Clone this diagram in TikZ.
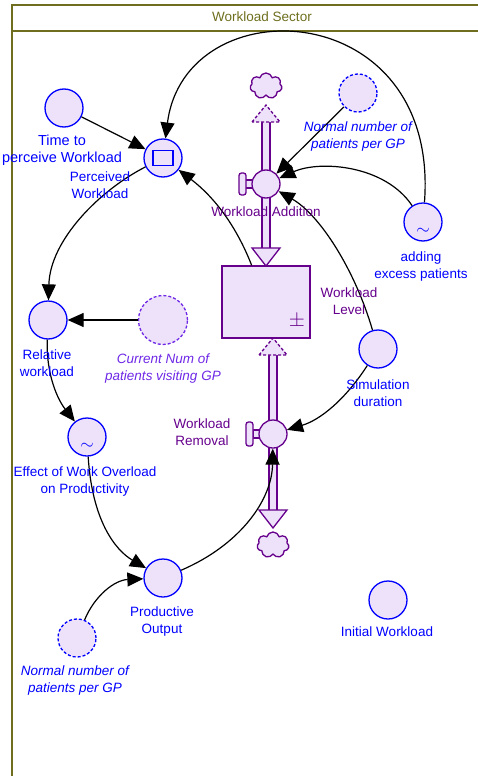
\documentclass[tikz,border=0pt]{standalone}
\usepackage{fontspec}
\setmainfont{Liberation Sans}
\usetikzlibrary{arrows.meta,shapes.symbols}
\definecolor{lav}{RGB}{238,226,250}
\definecolor{auxc}{RGB}{0,0,255}
\definecolor{flowc}{RGB}{102,0,140}
\definecolor{olivec}{RGB}{110,110,30}
\definecolor{violetc}{RGB}{110,40,230}

\begin{document}
\begin{tikzpicture}[x=1pt,y=-1pt,
  conv/.style={circle, draw=auxc, fill=lav, line width=1.3pt, minimum size=38pt, inner sep=0pt},
  ghost/.style={conv, dash pattern=on 3pt off 2pt},
  valve/.style={circle, draw=flowc, fill=lav, line width=1.3pt, minimum size=28pt, inner sep=0pt},
  knob/.style={draw=flowc, fill=lav, line width=1.3pt},
  cloudnode/.style={cloud, cloud puffs=7, draw=flowc, fill=lav, line width=1.3pt,
    minimum width=32pt, minimum height=26pt, inner sep=0pt},
  pipe/.style={draw=flowc, line width=1.4pt},
  head/.style={draw=flowc, fill=lav, line width=1.3pt, line join=miter},
  lbl/.style={text=auxc, font=\fontsize{13.5}{17}\selectfont, align=center, inner sep=0pt},
  flbl/.style={lbl, text=flowc},
  ilbl/.style={lbl, font=\fontsize{13.5}{17}\selectfont\itshape},
  link/.style={line width=1.2pt, -{Triangle[length=16pt,width=14pt]}},
  sym/.style={text=auxc, font=\fontsize{18}{18}\selectfont, inner sep=0pt}
]
\useasboundingbox (0,0) rectangle (478,776);

% sector frame
\draw[olivec, line width=2pt] (12,776) -- (12,5) -- (520,5);
\draw[olivec, line width=2pt] (12,31) -- (520,31);
\node[text=olivec, font=\fontsize{13.5}{14}\selectfont, inner sep=0pt] (title) at (262,17) {Workload Sector};

% upper flow (inflow)
\fill[lav] (262,121) rectangle (270,249);
\draw[pipe] (262,121) -- (262,249) (270,121) -- (270,249);
\draw[head, dash pattern=on 3pt off 2pt] (252,122) -- (266,105) -- (280,122) -- cycle;
\draw[head] (252,248) -- (280,248) -- (266,266) -- cycle;
\node[cloudnode] (srccloud) at (266,86) {};

% lower flow (outflow)
\fill[lav] (269,354) rectangle (277,511);
\draw[pipe] (269,354) -- (269,511) (277,354) -- (277,511);
\draw[head, dash pattern=on 3pt off 2pt] (259,355) -- (273,338) -- (287,355) -- cycle;
\draw[head] (259,510) -- (287,510) -- (273,528) -- cycle;
\node[cloudnode] (sinkcloud) at (273,545) {};

% stock
\node[draw=flowc, fill=lav, line width=1.3pt, minimum width=88pt, minimum height=72pt, inner sep=0pt] (stock) at (266,302) {};
\node[text=flowc, font=\fontsize{20}{20}\selectfont, inner sep=0pt] (pm) at (297,321) {$\pm$};

% valves
\draw[knob] (245,180) rectangle (253,188);
\draw[knob, rounded corners=2.5pt] (239,173) rectangle (246,195);
\node[valve] (wa) at (266,184) {};
\draw[knob] (253,430) rectangle (261,438);
\draw[knob, rounded corners=2.5pt] (246,422) rectangle (253,446);
\node[valve] (wr) at (273,434) {};

% converters
\node[conv] (tw) at (64,108) {};
\node[conv] (pw) at (163,158) {};
\node[draw=auxc, line width=1.3pt, minimum width=20pt, minimum height=15pt, inner sep=0pt] (pwbox) at (163,158) {};
\node[ghost] (nn1) at (358,93) {};
\node[conv] (ae) at (423,222) {};
\node[sym] (aesym) at (423,231) {$\sim$};
\node[conv] (sd) at (378,349) {};
\node[conv] (rw) at (48,320) {};
\node[ghost, draw=violetc, minimum size=49pt] (cn) at (163,320) {};
\node[conv] (ef) at (87,437) {};
\node[sym] (efsym) at (87,446) {$\sim$};
\node[conv] (po) at (163,578) {};
\node[ghost] (nn2) at (77,638) {};
\node[conv] (iw) at (388,600) {};

% links
\draw[link] (tw) -- (pw);
\draw[link] (ae) .. controls (440,-5) and (185,-15) .. (pw);
\draw[link] (stock) .. controls (232,215) and (205,190) .. (pw);
\draw[link] (nn1) -- (wa);
\draw[link] (ae) .. controls (385,165) and (320,160) .. (wa);
\draw[link] (sd) .. controls (355,270) and (320,215) .. (wa);
\draw[link] (sd) .. controls (345,400) and (320,420) .. (wr);
\draw[link] (pw) .. controls (100,190) and (50,240) .. (rw);
\draw[link] (cn) -- (rw);
\draw[link] (rw) .. controls (46,375) and (58,400) .. (ef);
\draw[link] (ef) .. controls (92,520) and (115,550) .. (po);
\draw[link] (nn2) .. controls (95,595) and (115,580) .. (po);
\draw[link] (po) .. controls (240,545) and (272,500) .. (wr);

% labels
\node[lbl, font=\fontsize{14.5}{17}\selectfont] (twl) at (62,150) {Time to\\perceive Workload};
\node[lbl] (pwl) at (100,185) {Perceived\\Workload};
\node[flbl] (wal) at (266,212) {Workload Addition};
\node[ilbl] (nn1l) at (358,137) {Normal number of\\patients per GP};
\node[lbl] (ael) at (421,267) {adding\\excess patients};
\node[flbl] (stl) at (349,301) {Workload\\Level};
\node[lbl] (sdl) at (378,393) {Simulation\\duration};
\node[flbl] (wrl) at (202,432) {Workload\\Removal};
\node[lbl] (rwl) at (47,363) {Relative\\workload};
\node[ilbl, text=violetc] (cnl) at (163,369) {Current Num of\\patients visiting GP};
\node[lbl] (efl) at (85,482) {Effect of Work Overload\\on Productivity};
\node[lbl] (pol) at (162,622) {Productive\\Output};
\node[ilbl] (nn2l) at (75,681) {Normal number of\\patients per GP};
\node[lbl] (iwl) at (387,632) {Initial Workload};
\end{tikzpicture}
\end{document}
